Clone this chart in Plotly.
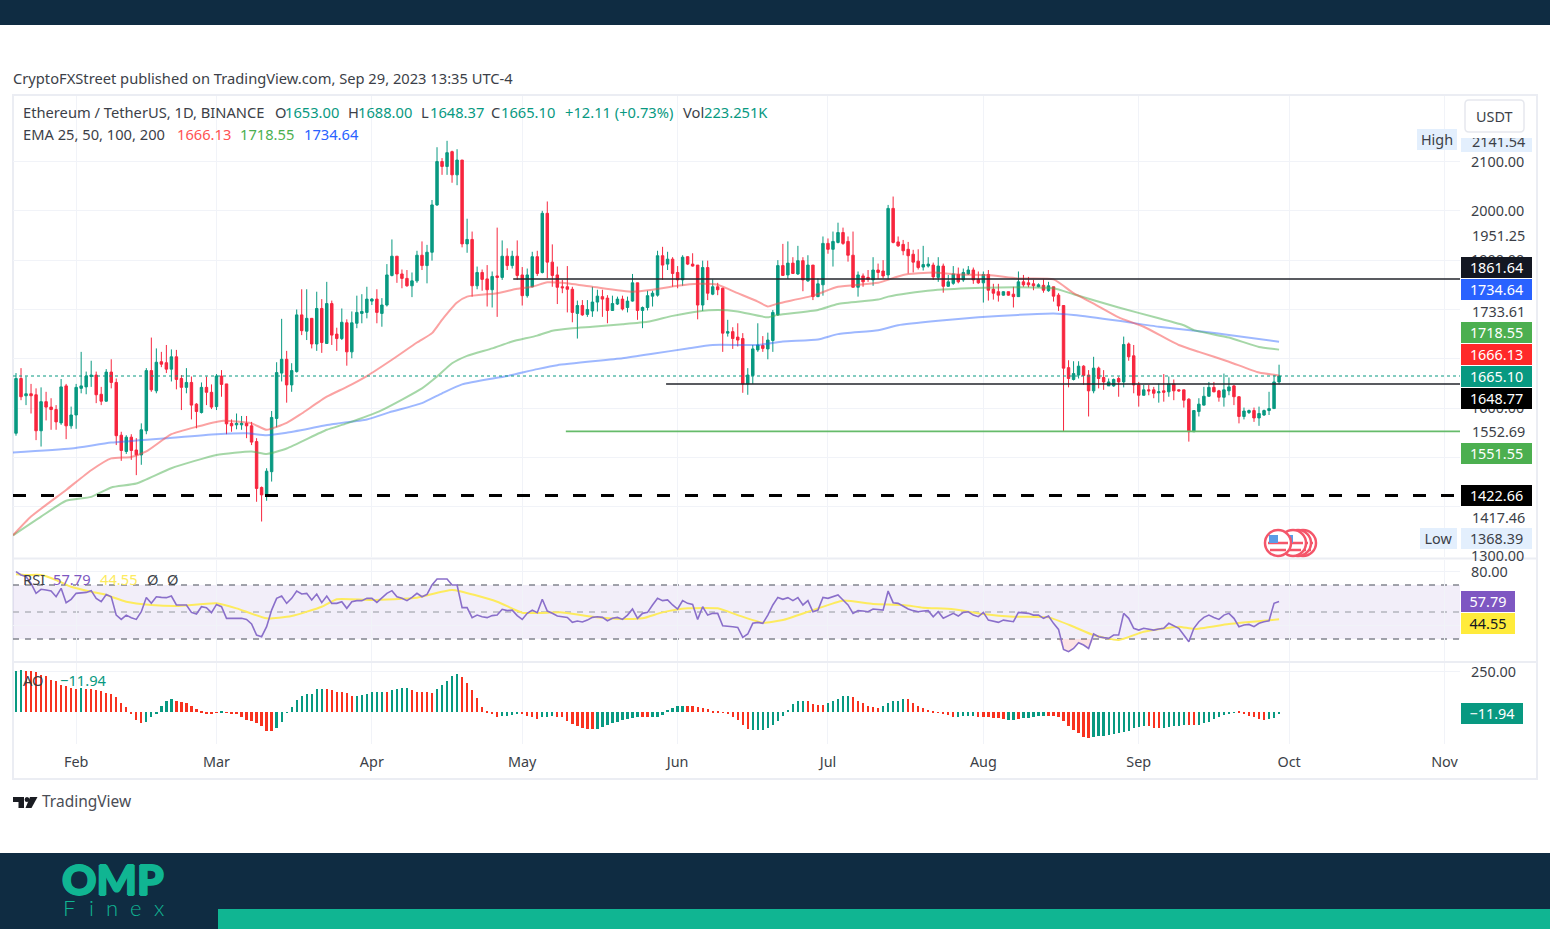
import pandas as pd
import plotly.graph_objects as go

FONT = "Noto Sans"
TXT = "#3c3f48"
UP = "#089981"
DOWN = "#f7263e"
W, H = 1550, 929

START = "2023-01-20"
candle_dir = "".join(["GRGRRGRRRG","RGGGGGRRGR","RRGRRGGRGR","RGRRGRRGRR","GRRRGGRRRR","GGGGRGGRGR","GRGRRGRGGG","GGRGGGRRRG",
 "GRGGGRGRGR","GRGRRGRGRG","RRGGRGRRRR","RRGRGGGRRG","GRGGRGGGGR","GRRGRRRGRG","RRGRRRGGGR","GGGRGRGRGR",
 "GGRGGRRRGR","RGRRGRRRRR","RGGRGRGGRG","GRRGRRRGRR","GRRRGRGRRR","RGGRRGRRGG","RGRRRGRRGR","GRRRRGGGGR","RGGRRGGRGG","GGG"])
highs = [1671,1681,1664,1649,1640,1642,1633,1620,1606,1659,1649,1603,1649,1714,1674,1696,1674,1643,1679,1699,
 1660,1552,1545,1547,1539,1569,1681,1743,1721,1714,1728,1719,1718,1667,1681,1664,1610,1652,1664,1648,
 1669,1677,1649,1577,1589,1584,1584,1572,1539,1441,1478,1594,1693,1781,1716,1691,1800,1841,1841,1782,
 1836,1821,1856,1818,1763,1802,1780,1796,1828,1831,1846,1823,1841,1823,1892,1942,1908,1881,1880,1875,
 1919,1938,1931,2022,2129,2107,2142,2122,2125,2103,1984,1958,1887,1881,1890,1877,1966,1940,1924,1919,
 1940,1886,1883,1917,1919,2000,2019,1932,1887,1860,1888,1846,1818,1819,1819,1846,1840,1840,1829,1828,
 1826,1828,1826,1872,1854,1806,1838,1838,1919,1927,1917,1906,1888,1910,1908,1914,1890,1899,1899,1861,
 1854,1844,1779,1764,1772,1752,1681,1728,1772,1746,1753,1799,1900,1933,1938,1906,1929,1906,1910,1890,
 1863,1948,1944,1958,1976,1966,1948,1958,1877,1873,1880,1906,1893,1900,2012,2029,1948,1941,1937,1921,
 1922,1929,1906,1895,1906,1893,1870,1888,1885,1883,1888,1885,1877,1877,1880,1852,1852,1837,1836,1846,
 1877,1870,1866,1860,1853,1861,1856,1846,1833,1809,1697,1695,1695,1687,1677,1704,1684,1677,1660,1660,
 1664,1745,1733,1728,1653,1647,1647,1643,1650,1669,1664,1658,1638,1637,1620,1596,1620,1643,1653,1653,
 1637,1670,1662,1647,1624,1601,1597,1601,1603,1597,1633,1667,1688]
lows = [1544,1616,1606,1589,1535,1522,1575,1556,1556,1566,1537,1558,1558,1630,1628,1643,1610,1606,1613,1640,
 1525,1493,1507,1495,1464,1485,1547,1633,1630,1683,1671,1654,1638,1596,1630,1577,1559,1589,1606,1598,
 1596,1623,1547,1552,1557,1556,1539,1525,1410,1370,1412,1451,1561,1654,1611,1633,1672,1748,1738,1721,
 1716,1712,1731,1728,1716,1738,1686,1701,1762,1772,1782,1809,1772,1765,1806,1867,1854,1843,1846,1825,
 1854,1880,1853,1899,2010,2073,2073,2057,2052,1926,1915,1826,1841,1838,1806,1804,1785,1860,1880,1883,
 1860,1808,1824,1845,1868,1873,1863,1846,1811,1833,1794,1774,1741,1787,1785,1785,1796,1785,1772,1797,
 1809,1798,1794,1816,1779,1762,1798,1806,1826,1860,1880,1846,1843,1848,1890,1887,1780,1797,1819,1829,
 1829,1714,1745,1720,1725,1631,1627,1649,1714,1714,1699,1714,1787,1869,1862,1872,1870,1837,1856,1819,
 1825,1828,1913,1887,1934,1931,1897,1845,1826,1846,1856,1848,1862,1863,1861,1934,1927,1910,1873,1875,
 1881,1879,1885,1860,1856,1834,1846,1850,1853,1856,1870,1852,1852,1814,1818,1820,1816,1828,1828,1804,
 1826,1846,1845,1839,1845,1834,1836,1816,1797,1552,1642,1656,1660,1647,1583,1630,1640,1637,1645,1643,
 1623,1642,1696,1630,1603,1625,1626,1620,1611,1613,1623,1616,1633,1601,1532,1552,1583,1605,1623,1632,
 1613,1603,1626,1606,1569,1577,1588,1572,1564,1584,1586,1599,1648.37]
body_tops = [1660,1660,1629,1629,1627,1613,1613,1602,1597,1643,1645,1586,1642,1645,1665,1667,1667,1628,1673,1673,
 1652,1545,1541,1541,1515,1556,1676,1676,1693,1694,1692,1704,1704,1660,1652,1652,1608,1642,1642,1632,
 1665,1665,1649,1569,1569,1569,1569,1564,1532,1439,1472,1581,1672,1699,1699,1676,1789,1789,1782,1782,
 1802,1802,1812,1812,1750,1774,1773,1773,1794,1796,1821,1821,1821,1809,1870,1908,1908,1872,1863,1858,
 1910,1910,1916,2012,2100,2100,2118,2120,2103,2103,1942,1942,1875,1875,1862,1867,1868,1908,1908,1908,
 1908,1870,1870,1907,1907,1995,1995,1896,1870,1846,1846,1841,1808,1808,1800,1815,1827,1826,1823,1812,
 1821,1821,1817,1854,1854,1804,1828,1833,1909,1909,1902,1902,1875,1906,1907,1892,1890,1885,1885,1846,
 1846,1843,1755,1755,1744,1741,1667,1720,1728,1727,1738,1794,1889,1889,1894,1894,1899,1899,1890,1890,
 1852,1934,1934,1938,1956,1956,1938,1910,1870,1868,1865,1880,1880,1878,2005,2005,1937,1932,1922,1912,
 1898,1891,1892,1890,1888,1888,1856,1872,1871,1875,1880,1880,1861,1871,1871,1841,1836,1836,1836,1831,
 1856,1856,1854,1852,1850,1849,1848,1846,1829,1808,1682,1670,1685,1685,1667,1681,1681,1662,1653,1658,
 1660,1729,1730,1706,1647,1637,1637,1637,1633,1635,1649,1649,1637,1637,1618,1595,1608,1624,1642,1642,
 1635,1637,1643,1645,1623,1594,1595,1595,1589,1595,1599,1653,1665.10]
body_bottoms = [1549,1623,1625,1625,1554,1554,1602,1597,1572,1570,1564,1564,1586,1640,1643,1664,1627,1614,1614,1652,
 1544,1514,1512,1514,1505,1505,1554,1637,1635,1689,1679,1679,1658,1642,1642,1606,1593,1591,1632,1602,
 1603,1648,1568,1564,1566,1566,1564,1531,1437,1424,1424,1471,1579,1671,1647,1647,1674,1757,1756,1730,
 1730,1733,1731,1748,1741,1741,1714,1714,1772,1792,1794,1817,1794,1792,1809,1869,1872,1863,1848,1848,
 1858,1889,1889,1916,2012,2090,2090,2073,2073,1933,1933,1848,1848,1861,1840,1840,1865,1865,1889,1889,
 1869,1828,1828,1846,1873,1875,1896,1869,1845,1844,1841,1794,1792,1789,1790,1797,1815,1821,1798,1798,
 1811,1801,1804,1817,1798,1798,1804,1827,1829,1890,1892,1873,1860,1860,1892,1888,1809,1809,1833,1831,
 1840,1752,1752,1741,1738,1649,1649,1666,1718,1721,1720,1737,1789,1869,1870,1873,1872,1860,1858,1826,
 1826,1850,1922,1922,1936,1934,1910,1845,1845,1856,1861,1860,1875,1868,1870,1936,1929,1919,1909,1896,
 1885,1886,1888,1866,1865,1847,1847,1853,1856,1860,1872,1860,1854,1854,1839,1833,1829,1829,1829,1826,
 1826,1850,1850,1848,1846,1839,1838,1827,1807,1681,1660,1658,1667,1666,1635,1635,1660,1653,1645,1645,
 1653,1653,1704,1647,1626,1626,1635,1630,1631,1632,1633,1635,1635,1616,1552,1552,1593,1606,1624,1633,
 1622,1622,1635,1623,1583,1583,1591,1580,1580,1586,1595,1599,1653]

ema25_days = [-0.6,3,10,15,19,23,26,31,36,41,47,50,54,57,62,66,70,75,80,83,85,88,90,96,100,103,106,109,115,123,127,132,136,140,144,148,150,152,159,164,172,177,183,188,194,200,207,211,215,220,225,232,236,242,248,252]
ema25_vals = [1342,1380,1434,1474,1498,1501,1512,1547,1562,1574,1569,1556,1570,1589,1623,1643,1665,1698,1733,1752,1779,1814,1826,1833,1842,1846,1855,1854,1846,1836,1840,1848,1852,1850,1833,1816,1806,1812,1828,1846,1854,1870,1875,1871,1870,1863,1861,1833,1812,1784,1765,1728,1714,1694,1672,1666.13]
ema50_days = [-0.6,5,10,15,19,24,31,40,47,50,54,62,66,73,81,84,87,90,95,99,104,107,111,115,121,126,131,136,140,144,150,152,160,164,172,174,178,183,193,200,207,211,220,228,233,235,242,248,252]
ema50_vals = [1342,1380,1412,1420,1439,1447,1478,1505,1512,1507,1518,1556,1569,1596,1640,1664,1691,1706,1721,1735,1747,1757,1762,1765,1770,1775,1787,1796,1799,1796,1784,1789,1799,1811,1820,1826,1833,1839,1844,1845,1843,1831,1804,1782,1768,1758,1743,1724,1718.55]
ema200_days = [-0.6,11,19,30,40,46,50,54,63,70,75,81,85,89,98,104,108,121,127,134,139,148,153,160,164,172,176,184,192,200,207,211,220,228,237,242,252]
ema200_vals = [1510,1518,1530,1539,1547,1549,1545,1550,1567,1577,1593,1610,1630,1648,1665,1679,1687,1701,1710,1721,1728,1728,1735,1739,1750,1758,1768,1777,1784,1789,1792,1789,1777,1765,1755,1748,1734.64]

rsi = [79.9,77.4,76.2,71.2,63.8,66.8,66.3,65.5,61.3,67.5,56.9,59.4,63.8,64.3,64.5,65.8,60.1,57.6,63,61.3,
 47.7,44.5,47.7,45.8,44.5,50.2,60.8,56.4,61.3,60.8,60.6,61.8,55.2,55.2,55.2,49.7,48.5,53.9,53.2,49.5,
 55.6,53.9,45.3,45.3,45.3,45.3,44.5,41.1,32.9,31.7,39.1,51.4,60.1,61.8,56.4,60.1,65.5,63.3,63.8,58.9,
 63.3,56.9,61.8,56.4,56.4,57.6,52.7,57.6,58.4,58.4,60.1,60.1,57.1,60.1,63.8,65.8,61.3,60.1,58.4,60.8,
 63.8,61.3,63,70,74.4,74.4,74.4,70,70,53.2,53.2,45.8,47.7,46.5,45.8,47.3,47.7,52,51,51.4,
 47.3,44.5,49,51.4,49.5,59.4,50.7,49,47,46.5,46,42.3,43.3,42.6,44,46,46.5,46,43.5,45.3,
 46,44.5,47.7,52.2,45.3,49,49.7,55.2,60.1,58.4,58.9,55.2,52.2,58.4,56.4,55.6,44.5,53.9,47.7,49,
 49,39.8,39.6,39.1,38.6,31.2,33.7,41.6,42.3,41.6,47.7,55.2,60.8,59.4,60.6,58.4,60.6,55.2,58.4,50.2,
 51.4,60.8,60.1,61.3,62.6,58.9,55.2,49,51,50.7,50.2,52.2,52,51.4,65.5,56.9,56.4,54.4,52.2,51,
 50.2,50.7,51,46.5,50.2,45.3,47,49,47,49.7,50.2,47.7,46.5,49.7,44,43.3,42.3,44,43.3,42.8,
 49.7,49.5,49,47.7,47.7,45.3,47,41.6,37.1,22.3,20.6,23,27.2,25.5,23,33.7,31.7,31,30.5,32.9,
 32.9,49,45.3,37.9,36.6,37.9,37.1,36.6,37.4,37.9,41.6,39.6,37.9,32.9,28,37.9,42.8,46,47.7,46,
 44.5,47.7,49,45.3,39.1,40.3,40.8,39.1,41.6,42.8,43.5,56.4,57.79]
rsi_ma_days = [0,2,5,8,11,15,18,22,27,32,40,44,50,55,61,64,71,80,87,96,101,109,115,121,125,129,134,140,144,149,153,159,165,171,177,181,187,193,199,206,211,215,220,225,232,235,242,252]
rsi_ma_vals = [78,77.4,77.4,73.7,68.7,65,62.6,57.6,55.2,54.4,56.4,52.7,45.3,47,53.9,59.4,58.9,60.6,66.3,57.6,49.5,49.7,46.5,44.8,45.3,49.7,52.7,52.7,47.7,42,44,51.4,58.4,55.9,55.2,53.2,52,48.5,46.5,46,39.1,32.9,29.2,35.4,39.1,37.4,41.1,44.55]

ao_dir = ("G"*2+"R"*11+"G"+"R"*12+"G"*6+"R"*9+"G"+"R"*10+"G"*10+"R"*6+"G"*6+"R"+"G"*4+"R"*5+"G"*5+"R"*8+"G"*4+"R"*4+"G"*3+"R"*8
          +"G"*9+"R"*2+"G"*7+"R"*13+"G"*11+"R"*4+"G"*5+"R"*6+"G"*5+"R"*10+"G"*4+"R"*6+"G"*2+"R"+"G"*5+"R"*9+"G"*11+"R"*3+"G"*5+"R"*2+"G"*8+"R"*6+"G"*3)
ao = [258,260,254,254,248,233,223,202,191,171,160,150,146,150,144,144,139,133,119,114,
 94,56,31,-10,-48,-64,-58,-31,-6,42,73,81,73,64,56,40,19,4,-6,-6,
 -2,10,-2,-6,-12,-27,-48,-54,-64,-85,-114,-114,-94,-58,-2,35,77,102,112,116,
 144,144,144,135,127,127,119,102,104,110,112,127,127,127,127,135,144,148,152,139,
 127,127,123,119,144,168,191,227,239,218,181,139,87,35,10,-10,-27,-23,-21,-17,
 -10,-6,-23,-31,-40,-31,-27,-23,-27,-31,-52,-73,-83,-96,-102,-106,-102,-89,-79,-69,
 -58,-48,-42,-33,-31,-27,-31,-31,-31,-17,15,29,40,40,40,40,33,29,19,10,
 2,-2,-6,-27,-48,-79,-106,-110,-112,-110,-100,-79,-52,-23,15,52,73,73,73,52,
 46,46,56,67,81,98,104,94,67,56,42,31,25,42,56,67,73,81,81,60,
 42,29,15,2,-2,-12,-17,-27,-31,-23,-23,-23,-27,-27,-31,-33,-37,-44,-48,-48,
 -44,-37,-33,-27,-23,-21,-23,-23,-27,-54,-83,-110,-131,-152,-160,-152,-148,-146,-141,-137,
 -131,-123,-114,-100,-89,-85,-85,-96,-100,-96,-89,-83,-83,-79,-79,-79,-79,-69,-58,-44,
 -31,-17,-8,-2,2,-10,-23,-31,-44,-48,-44,-33,-11.94]

month_days = [12,40,71,101,132,162,193,224,254,285]
month_names = ["Feb","Mar","Apr","May","Jun","Jul","Aug","Sep","Oct","Nov"]

resistance_level = 1861.64
support_level = 1648.77
low_level = 1552.69
dashed_level = 1422.66
last_close = 1665.10
resistance_start, support_start, low_start = 99.2, 129.7, 109.7

n = len(highs)
assert [len(v) for v in (lows, body_tops, body_bottoms, rsi, ao, candle_dir, ao_dir)] == [n] * 7

start = pd.Timestamp(START)
dates = pd.date_range(start, periods=n, freq="D")
def day(d):
    return start + pd.Timedelta(days=d)
left_day, right_day = -0.6, 288.1
x_range = [day(left_day), day(right_day)]
month_ticks = [day(d) for d in month_days]

opens = [b if c == "G" else t for c, t, b in zip(candle_dir, body_tops, body_bottoms)]
closes = [t if c == "G" else b for c, t, b in zip(candle_dir, body_tops, body_bottoms)]

fig = go.Figure()
fig.add_trace(go.Scatter(x=[day(d) for d in ema200_days], y=ema200_vals, mode="lines", line=dict(color="rgba(41,98,255,0.45)", width=2, shape="spline", smoothing=0.5)))
fig.add_trace(go.Scatter(x=[day(d) for d in ema50_days], y=ema50_vals, mode="lines", line=dict(color="rgba(76,175,80,0.5)", width=2, shape="spline", smoothing=0.5)))
fig.add_trace(go.Scatter(x=[day(d) for d in ema25_days], y=ema25_vals, mode="lines", line=dict(color="rgba(247,70,70,0.5)", width=2, shape="spline", smoothing=0.5)))
fig.add_trace(go.Candlestick(x=dates, open=opens, high=highs, low=lows, close=closes, whiskerwidth=0,
    increasing=dict(line=dict(color=UP, width=1), fillcolor=UP),
    decreasing=dict(line=dict(color=DOWN, width=1), fillcolor=DOWN)))
for level, first, color, width, dash in [
    (last_close, left_day, UP, 1.2, "dot"),
    (resistance_level, resistance_start, "#22252b", 1.6, "solid"),
    (support_level, support_start, "#22252b", 1.6, "solid"),
    (low_level, low_start, "#66bb6a", 1.6, "solid"),
    (dashed_level, left_day, "#000000", 3, "13px,15px"),
]:
    fig.add_trace(go.Scatter(x=[day(first), day(right_day)], y=[level, level], mode="lines", line=dict(color=color, width=width, dash=dash)))

# RSI pane
os_idx = [i for i in range(208, 216)]
fig.add_trace(go.Scatter(x=[dates[i] for i in os_idx], y=[30] * len(os_idx), mode="lines", line=dict(width=0), xaxis="x2", yaxis="y2"))
fig.add_trace(go.Scatter(x=[dates[i] for i in os_idx], y=[min(rsi[i], 30) for i in os_idx], mode="lines", line=dict(width=0), fill="tonexty", fillcolor="rgba(242,54,69,0.14)", xaxis="x2", yaxis="y2"))
fig.add_trace(go.Scatter(x=[day(d) for d in rsi_ma_days], y=rsi_ma_vals, mode="lines", line=dict(color="#fdeb5e", width=2, shape="spline", smoothing=0.5), xaxis="x2", yaxis="y2"))
fig.add_trace(go.Scatter(x=dates, y=rsi, mode="lines", line=dict(color="#8a6fca", width=1.6), xaxis="x2", yaxis="y2"))

# AO pane
fig.add_trace(go.Bar(x=dates, y=ao, width=86400000 * 0.46, marker=dict(color=[UP if c == "G" else "#f8321f" for c in ao_dir], line=dict(width=0)), xaxis="x3", yaxis="y3"))

def xp(p): return p / W
def yp(p): return 1 - p / H

GRID = "#f1f3f8"
shapes = []
def prect(x0, y0, x1, y1, fill, line=None, lw=0, layer="below"):
    shapes.append(dict(type="rect", xref="paper", yref="paper", x0=xp(x0), x1=xp(x1), y0=yp(y0), y1=yp(y1),
                       fillcolor=fill, line=dict(color=line or fill, width=lw), layer=layer))

prect(0, 0, W, 25, "#0f2c42")
prect(0, 853, W, H, "#0f2c42")
prect(218, 909, W, H, "#10b592")
# frame
prect(13, 95, 1537, 779, "rgba(0,0,0,0)", "#ebedf3", 2)
prect(13, 557.5, 1537, 559.5, "#ebedf3")
prect(13, 661, 1537, 663, "#ebedf3")
# RSI band and levels
shapes.append(dict(type="rect", xref="x2 domain", yref="y2", x0=0, x1=1, y0=30, y1=70, fillcolor="rgba(126,87,194,0.10)", line=dict(width=0), layer="below"))
for lv, col in ((70, "#83858e"), (50, "#b4b5bd"), (30, "#83858e")):
    shapes.append(dict(type="line", xref="x2 domain", yref="y2", x0=0, x1=1, y0=lv, y1=lv, line=dict(color=col, width=1.5, dash="6px,6px"), layer="below"))
# TradingView logo
prect(13, 797, 24, 802, "#1a1c22")
prect(18.5, 797, 24, 808, "#1a1c22")
shapes.append(dict(type="circle", xref="paper", yref="paper", x0=xp(24.6), x1=xp(29.4), y0=yp(797), y1=yp(802), fillcolor="#1a1c22", line=dict(width=0)))
shapes.append(dict(type="path", xref="paper", yref="paper", path=f"M {xp(30)} {yp(797)} L {xp(37.5)} {yp(797)} L {xp(31.5)} {yp(808)} L {xp(25.5)} {yp(808)} Z", fillcolor="#1a1c22", line=dict(width=0)))

annotations = []
LS = 14.7
def text(x, y, s, size=LS, color=TXT, anchor="left", font=FONT, weight=None, shadow=None):
    f = dict(family=font, size=size, color=color)
    if weight:
        f["weight"] = weight
    if shadow:
        f["shadow"] = shadow
    annotations.append(dict(xref="paper", yref="paper", x=xp(x - 1), y=yp(y - 1), text=s, showarrow=False, xanchor=anchor, yanchor="middle", font=f, borderpad=0))
def badge(x0, x1, y, s, bg, color="#ffffff", size=14.4, h=21):
    annotations.append(dict(xref="paper", yref="paper", x=xp(x0), y=yp(y - 0.7), text=s, showarrow=False, xanchor="left", yanchor="middle",
                            width=x1 - x0, height=h, bgcolor=bg, align="center", font=dict(family=FONT, size=size, color=color), borderpad=0, borderwidth=0))

text(13, 79, "CryptoFXStreet published on TradingView.com, Sep 29, 2023 13:35 UTC-4")
text(23, 113, "Ethereum / TetherUS, 1D, BINANCE")
for lx, vx, lab, v in [(275, 285, "O", "1653.00"), (348, 358, "H", "1688.00"), (421, 430, "L", "1648.37"), (491, 501, "C", "1665.10"), (683, 704, "Vol", "223.251K")]:
    text(lx, 113, lab)
    text(vx, 113, v, color=UP)
text(565, 113, "+12.11 (+0.73%)", color=UP)
text(23, 135, "EMA 25, 50, 100, 200")
text(177, 135, "1666.13", color="#ff5252")
text(240, 135, "1718.55", color="#4caf50")
text(304, 135, "1734.64", color="#2962ff")
text(23, 580, "RSI")
text(53, 580, "57.79", color="#7e57c2")
text(100, 580, "44.55", color="#fdeb5e")
text(147, 580, "Ø")
text(167, 580, "Ø")
text(23, 681, "AO")
text(60, 681, "−11.94", color=UP)
text(42, 802, "TradingView", 15.5, "#4a4d55")

# price scale labels
badge(1417, 1457, 140.5, "High", "#e3effd", TXT)
prect(1461, 137.5, 1532, 152, "#e3effd")
text(1472, 142.5, "2141.54", 14.4)
annotations.append(dict(xref="paper", yref="paper", x=xp(1461), y=yp(132.8), text=" ", showarrow=False, xanchor="left", yanchor="top",
                        width=71, height=5, bgcolor="#ffffff", borderpad=0, borderwidth=0))
shapes.append(dict(type="path", xref="paper", yref="paper", layer="above", fillcolor="#ffffff", line=dict(color="#e6e8ee", width=1.5),
    path=f"M {xp(1469)} {yp(100)} L {xp(1520)} {yp(100)} Q {xp(1524)} {yp(100)} {xp(1524)} {yp(104)} L {xp(1524)} {yp(128)} Q {xp(1524)} {yp(132)} {xp(1520)} {yp(132)} L {xp(1469)} {yp(132)} Q {xp(1465)} {yp(132)} {xp(1465)} {yp(128)} L {xp(1465)} {yp(104)} Q {xp(1465)} {yp(100)} {xp(1469)} {yp(100)} Z"))
text(1495, 117, "USDT", 14.4, anchor="center")
text(1472, 236, "1951.25", 14.4)
text(1472, 312, "1733.61", 14.4)
text(1472, 432, "1552.69", 14.4)
text(1472, 518, "1417.46", 14.4)
badge(1461, 1532, 268, "1861.64", "#131722")
badge(1461, 1532, 290, "1734.64", "#2962ff")
badge(1461, 1532, 333, "1718.55", "#4caf50")
badge(1461, 1532, 355, "1666.13", "#ff2929")
badge(1461, 1532, 377, "1665.10", UP)
badge(1461, 1532, 399, "1648.77", "#000000")
badge(1461, 1532, 454, "1551.55", "#4caf50")
badge(1461, 1532, 496, "1422.66", "#000000")
badge(1420, 1457, 539, "Low", "#e3effd", TXT)
badge(1461, 1532, 539, "1368.39", "#e3effd", TXT)
badge(1461, 1515, 602, "57.79", "#7e57c2")
badge(1461, 1515, 624, "44.55", "#ffeb3b", "#131722")
badge(1461, 1523, 714, "−11.94", UP)

# event markers (US flag badges), right-most underneath
def flag(cx, cy=543, r=13):
    shapes.append(dict(type="circle", xref="paper", yref="paper", x0=xp(cx - r), x1=xp(cx + r), y0=yp(cy - r), y1=yp(cy + r), fillcolor="#ffffff", line=dict(color="#f4566a", width=2.5), layer="above"))
    for dy, hw in ((0, 10), (7, 8)):
        shapes.append(dict(type="line", xref="paper", yref="paper", x0=xp(cx - hw), x1=xp(cx + hw), y0=yp(cy + dy), y1=yp(cy + dy), line=dict(color="#f4566a", width=2.5), layer="above"))
    shapes.append(dict(type="rect", xref="paper", yref="paper", x0=xp(cx - 9), x1=xp(cx), y0=yp(cy - 8), y1=yp(cy), fillcolor="#5b9be6", line=dict(width=0), layer="above"))
for cx in (1303, 1298, 1293, 1278):
    flag(cx)

# brand
GLOW = "1px 0 #10b592, -1px 0 #10b592, 0 1px #10b592, 0 -1px #10b592"
text(62, 879, "OMP", 42.5, "#10b592", font="Lato", weight=900, shadow=GLOW)
for lx, ch in [(63, "F"), (89, "i"), (106, "n"), (130, "e"), (154, "x")]:
    text(lx, 908.5, ch, 22, "#10b592", font="Lato", weight=300)

common_x = dict(range=x_range, domain=[xp(13), xp(1460)], type="date", tickvals=month_ticks, showgrid=True, gridcolor=GRID, gridwidth=1, zeroline=False, showline=False, ticks="", automargin=False, rangeslider=dict(visible=False))
tf = dict(family=FONT, size=14.4, color=TXT)
fig.update_layout(
    width=W, height=H, autosize=False, margin=dict(l=0, r=0, t=0, b=0), paper_bgcolor="#ffffff", plot_bgcolor="#ffffff",
    showlegend=False, bargap=0, hovermode=False, font=dict(family=FONT, size=14, color=TXT),
    xaxis=dict(common_x, anchor="y", showticklabels=False),
    xaxis2=dict(common_x, anchor="y2", showticklabels=False),
    xaxis3=dict(common_x, anchor="y3", ticktext=month_names, showticklabels=True, ticklabelstandoff=8, tickfont=tf),
    yaxis=dict(domain=[yp(557), yp(96)], range=[1298, 2232.9], side="right", anchor="x", automargin=False, tickvals=[2100, 2000, 1900, 1800, 1700, 1600, 1500, 1400, 1300],
               ticktext=["2100.00", "2000.00", "1900.00", "", "", "1600.00", "", "", "1300.00"], showgrid=True, gridcolor=GRID, zeroline=False, ticks="", ticklabelstandoff=10, tickfont=tf),
    yaxis2=dict(domain=[yp(661), yp(560)], range=[13.7, 88.5], side="right", anchor="x2", automargin=False, tickvals=[80, 40], ticktext=["80.00", ""], showgrid=True, gridcolor=GRID, zeroline=False, ticks="", ticklabelstandoff=10, tickfont=tf),
    yaxis3=dict(domain=[yp(744), yp(663)], range=[-196, 305], side="right", anchor="x3", automargin=False, tickvals=[250], ticktext=["250.00"], showgrid=True, gridcolor=GRID, zeroline=False, ticks="", ticklabelstandoff=10, tickfont=tf),
    shapes=shapes, annotations=annotations,
)
fig.write_html("out.html", default_width="1550px", default_height="929px",
               post_script="document.body.style.margin='0';document.body.style.overflow='hidden';",
               config=dict(displayModeBar=False, responsive=False))
